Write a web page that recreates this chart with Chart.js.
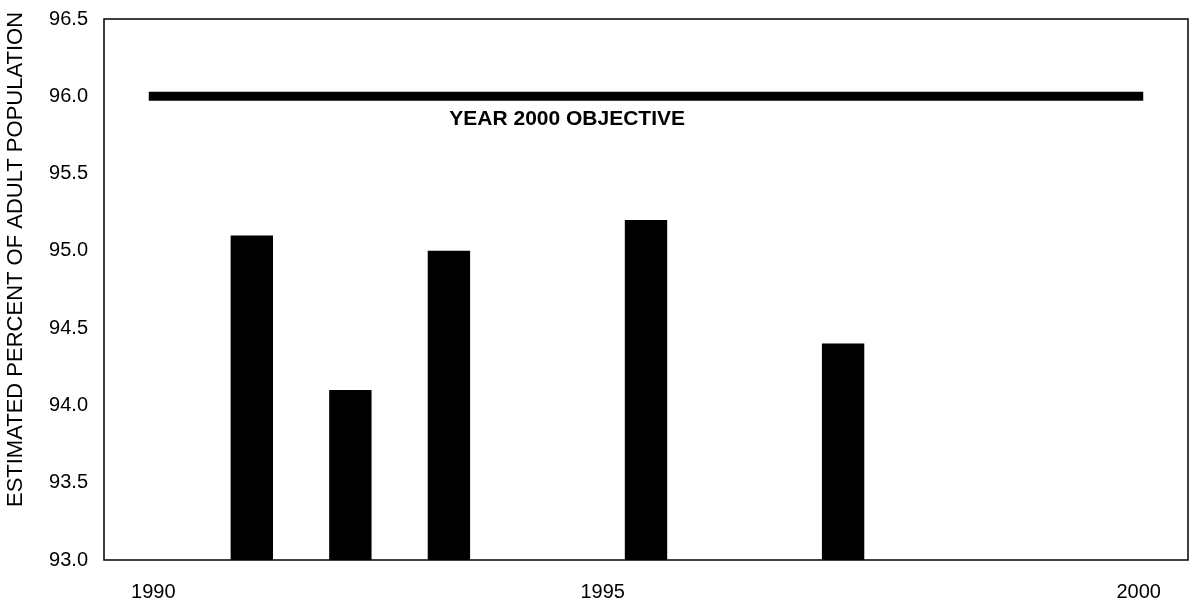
<!DOCTYPE html>
<html>
<head>
<meta charset="utf-8">
<script src="https://cdn.jsdelivr.net/npm/chart.js@4.4.1/dist/chart.umd.min.js"></script>
<style>
    html, body { margin: 0; padding: 0; background: #fff; }
    #wrap { width: 1195px; height: 606px; position: relative; }
</style>
</head>
<body>
<div id="wrap"><canvas id="chart"></canvas></div>
<script>
const years = ['1990', '1991', '1992', '1993', '1994', '1995', '1996', '1997', '1998', '1999', '2000'];
const shownYears = ['1990', '2000'];
const middleYear = '1995';
const percentValues = [null, 95.1, 94.1, 95.0, null, 95.2, null, 94.4, null, null, null];
const objectiveValues = [96, 96, 96, 96, 96, 96, 96, 96, 96, 96, 96];
const yTitle = 'ESTIMATED PERCENT OF ADULT POPULATION';
const objectiveLabel = 'YEAR 2000 OBJECTIVE';

Chart.defaults.font.family = '"Liberation Sans", Arial, sans-serif';
Chart.defaults.color = '#000';

// box around the plot, the rotated axis title, the objective label
// and the 1995 label (sits left of its bar in the original)
const extras = {
    id: 'extras',
    afterDraw(chart) {
        const ctx = chart.ctx;
        const a = chart.chartArea;
        const xs = chart.scales.x;
        const ys = chart.scales.y;
        ctx.save();
        ctx.strokeStyle = '#000';
        ctx.lineWidth = 1.5;
        ctx.strokeRect(a.left, a.top, a.right - a.left, a.bottom - a.top);

        ctx.fillStyle = '#000';
        ctx.font = '22px "Liberation Sans", Arial, sans-serif';
        ctx.textAlign = 'center';
        ctx.textBaseline = 'middle';
        ctx.translate(16, (a.top + a.bottom) / 2 - 30);
        ctx.rotate(-Math.PI / 2);
        ctx.fillText(yTitle, 0, 0);
        ctx.restore();

        ctx.save();
        ctx.fillStyle = '#000';
        ctx.textAlign = 'center';
        ctx.textBaseline = 'middle';
        ctx.font = 'bold 21px "Liberation Sans", Arial, sans-serif';
        ctx.fillText(objectiveLabel, xs.getPixelForValue(4.2), ys.getPixelForValue(95.85));

        ctx.font = '20px "Liberation Sans", Arial, sans-serif';
        ctx.fillText(middleYear, xs.getPixelForValue(4.56), a.bottom + 32);
        ctx.restore();
    }
};

new Chart(document.getElementById('chart'), {
    data: {
        labels: years,
        datasets: [{
            type: 'bar',
            data: percentValues,
            backgroundColor: '#000',
            barPercentage: 0.43,
            categoryPercentage: 1.0
        }, {
            type: 'line',
            data: objectiveValues,
            borderColor: '#000',
            borderWidth: 9,
            borderCapStyle: 'square',
            pointRadius: 0,
            fill: false
        }]
    },
    options: {
        responsive: true,
        maintainAspectRatio: false,
        animation: false,
        layout: { padding: { top: 19, right: 7, left: 0, bottom: 0 } },
        plugins: {
            legend: { display: false },
            tooltip: { enabled: false }
        },
        scales: {
            x: {
                offset: true,
                grid: { display: false, drawTicks: false },
                border: { display: false },
                ticks: {
                    autoSkip: false,
                    maxRotation: 0,
                    padding: 20,
                    font: { size: 20 },
                    callback: function(value) {
                        const lab = years[value];
                        return shownYears.includes(lab) ? lab : '';
                    }
                },
                afterFit: (scale) => { scale.height = 46; }
            },
            y: {
                min: 93,
                max: 96.5,
                grid: { display: false, drawTicks: false },
                border: { display: false },
                ticks: {
                    stepSize: 0.5,
                    padding: 16,
                    font: { size: 20 },
                    callback: (v) => v.toFixed(1)
                },
                afterFit: (scale) => {
                    scale.width = 104;
                    scale.paddingTop = 0;
                }
            }
        }
    },
    plugins: [extras]
});
</script>
</body>
</html>
